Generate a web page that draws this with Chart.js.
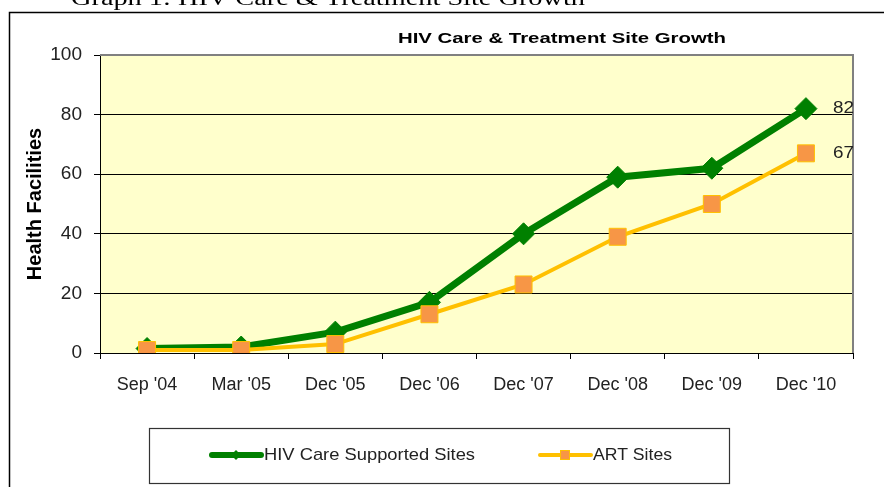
<!DOCTYPE html>
<html>
<head>
<meta charset="utf-8">
<script src="https://cdn.jsdelivr.net/npm/chart.js@4.4.1/dist/chart.umd.min.js"></script>
<style>
  html, body { margin: 0; padding: 0; background: #fff; }
  canvas { display: block; }
</style>
</head>
<body>
<canvas id="siteChart" width="884" height="487"></canvas>
<script>
// values
const categories = ["Sep '04", "Mar '05", "Dec '05", "Dec '06", "Dec '07", "Dec '08", "Dec '09", "Dec '10"];
const careSites = [1.5, 2, 7, 17, 40, 59, 62, 82];
const artSites = [1, 1, 3, 13, 23, 39, 50, 67];
const yTicks = [0, 20, 40, 60, 80, 100];

const caption = 'Graph 1: HIV Care & Treatment Site Growth';
const chartTitle = 'HIV Care & Treatment Site Growth';

const GREEN = '#008000';
const YELLOW = '#FFC000';
const ORANGE = '#F79646';

// draws text squeezed/stretched to a given width (the original is a stretched bitmap)
function fitText(ctx, text, x, y, width) {
    const w = ctx.measureText(text).width;
    ctx.save();
    ctx.translate(x, y);
    ctx.scale(width / w, 1);
    ctx.fillText(text, 0, 0);
    ctx.restore();
}

const backdrop = {
    id: 'backdrop',
    beforeDraw(chart) {
        const {ctx, chartArea: a} = chart;
        ctx.save();
        ctx.fillStyle = '#fff';
        ctx.fillRect(0, 0, chart.width, chart.height);

        // document caption, cut off at the top of the picture
        ctx.fillStyle = '#000';
        ctx.font = '22px "Liberation Serif", serif';
        ctx.textBaseline = 'alphabetic';
        fitText(ctx, caption, 71, 5, 514);

        // outer chart frame
        ctx.strokeStyle = '#000';
        ctx.lineWidth = 1.5;
        ctx.strokeRect(9.5, 12.5, chart.width + 20, chart.height + 20);

        // plot area
        ctx.fillStyle = '#FFFFCC';
        ctx.fillRect(a.left, a.top, a.right - a.left, a.bottom - a.top);
        ctx.restore();
    },
    beforeDatasetsDraw(chart) {
        const {ctx, chartArea: a} = chart;
        ctx.save();
        ctx.strokeStyle = '#808080';
        ctx.lineWidth = 2;
        ctx.beginPath();
        ctx.moveTo(a.left, a.top);
        ctx.lineTo(a.right, a.top);
        ctx.lineTo(a.right, a.bottom);
        ctx.stroke();
        ctx.restore();
    },
    afterDraw(chart) {
        const {ctx} = chart;
        ctx.save();

        // chart title
        ctx.fillStyle = '#000';
        ctx.font = 'bold 15px "Liberation Sans", Arial, sans-serif';
        ctx.textBaseline = 'alphabetic';
        fitText(ctx, chartTitle, 398, 43, 328);

        // value labels at the last points
        ctx.fillStyle = '#222';
        ctx.font = '17px "Liberation Sans", Arial, sans-serif';
        ctx.textBaseline = 'middle';
        chart.data.datasets.forEach((ds, i) => {
            const pts = chart.getDatasetMeta(i).data;
            const last = pts[pts.length - 1];
            const val = ds.data[ds.data.length - 1];
            fitText(ctx, String(val), last.x + 27, last.y, 21);
        });

        // legend box
        ctx.strokeStyle = '#333';
        ctx.lineWidth = 1.2;
        ctx.strokeRect(149.5, 428.5, 580, 55);

        const ly = 455;
        const [care, art] = chart.data.datasets;
        // care sites entry
        ctx.strokeStyle = care.borderColor;
        ctx.lineWidth = 6;
        ctx.lineCap = 'round';
        ctx.beginPath();
        ctx.moveTo(212, ly);
        ctx.lineTo(261, ly);
        ctx.stroke();
        ctx.fillStyle = care.pointBackgroundColor;
        ctx.beginPath();
        ctx.moveTo(236, ly - 5);
        ctx.lineTo(241, ly);
        ctx.lineTo(236, ly + 5);
        ctx.lineTo(231, ly);
        ctx.closePath();
        ctx.fill();
        // art sites entry
        ctx.strokeStyle = art.borderColor;
        ctx.lineWidth = 4;
        ctx.beginPath();
        ctx.moveTo(540, ly);
        ctx.lineTo(591, ly);
        ctx.stroke();
        ctx.fillStyle = art.pointBackgroundColor;
        ctx.fillRect(560, ly - 5, 10, 10);
        ctx.strokeStyle = art.pointBorderColor;
        ctx.lineWidth = 1;
        ctx.strokeRect(560.5, ly - 4.5, 9, 9);

        ctx.fillStyle = '#222';
        ctx.font = '17px "Liberation Sans", Arial, sans-serif';
        ctx.textBaseline = 'middle';
        fitText(ctx, care.label, 264, ly, 211);
        fitText(ctx, art.label, 593, ly, 79);
        ctx.restore();
    }
};

new Chart(document.getElementById('siteChart'), {
    type: 'line',
    data: {
        labels: categories,
        datasets: [{
            label: 'HIV Care Supported Sites',
            data: careSites,
            borderColor: GREEN,
            backgroundColor: GREEN,
            borderWidth: 7,
            pointStyle: 'rectRot',
            pointRadius: 11,
            pointBackgroundColor: GREEN,
            pointBorderColor: GREEN,
            pointBorderWidth: 1,
            tension: 0,
            order: 1
        }, {
            label: 'ART Sites',
            data: artSites,
            borderColor: YELLOW,
            backgroundColor: ORANGE,
            borderWidth: 4,
            pointStyle: 'rect',
            pointRadius: 12,
            pointBackgroundColor: ORANGE,
            pointBorderColor: YELLOW,
            pointBorderWidth: 1,
            tension: 0,
            order: 0
        }]
    },
    options: {
        responsive: false,
        animation: false,
        devicePixelRatio: 1,
        layout: { padding: { left: 10, top: 55, right: 31, bottom: 0 } },
        plugins: {
            legend: { display: false },
            title: { display: false },
            tooltip: { enabled: false }
        },
        scales: {
            x: {
                offset: true,
                afterFit: (scale) => { scale.height = 134; },
                grid: {
                    offset: true,
                    drawOnChartArea: false,
                    drawTicks: true,
                    tickLength: 6,
                    color: '#000'
                },
                border: { display: true, color: '#000', width: 1 },
                ticks: {
                    padding: 15,
                    color: '#222',
                    maxRotation: 0,
                    font: { family: '"Liberation Sans", Arial, sans-serif', size: 18 }
                }
            },
            y: {
                min: 0,
                max: 100,
                afterFit: (scale) => { scale.width = 90; },
                afterBuildTicks: (scale) => { scale.ticks = yTicks.map(v => ({ value: v })); },
                grid: {
                    color: (c) => (c.tick && c.tick.value === 100 ? '#808080' : '#000'),
                    tickColor: '#000',
                    tickLength: 6,
                    lineWidth: 1
                },
                border: { display: true, color: '#000', width: 1 },
                ticks: {
                    padding: 12,
                    color: '#222',
                    font: { family: '"Liberation Sans", Arial, sans-serif', size: 19 }
                },
                title: {
                    display: true,
                    text: 'Health Facilities',
                    color: '#000',
                    padding: { top: 13, bottom: 0 },
                    font: { family: '"Liberation Sans", Arial, sans-serif', size: 20, weight: 'bold' }
                }
            }
        }
    },
    plugins: [backdrop]
});
</script>
</body>
</html>
